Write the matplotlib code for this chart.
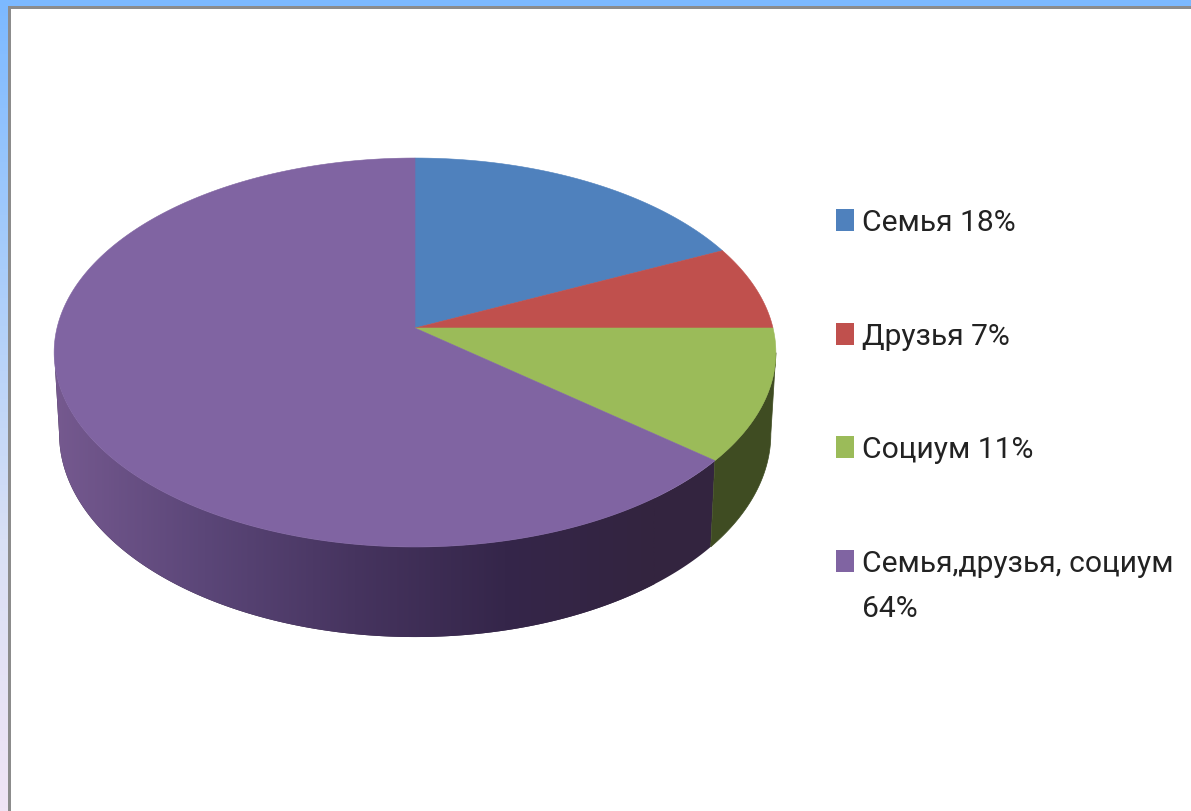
import numpy as np
import matplotlib
matplotlib.use('Agg')
import matplotlib.pyplot as plt
from matplotlib.patches import Polygon, Rectangle
from matplotlib.colors import LinearSegmentedColormap

plt.rcParams['font.family'] = ['Roboto', 'DejaVu Sans']

# chart data
names = ['Семья 18%', 'Друзья 7%', 'Социум 11%', 'Семья,друзья, социум\n64%']
values = [18, 7, 11, 64]
top_colors = ['#4f81bd', '#c0504d', '#9bbb59', '#8064a2']
side_colors = ['#2c4a70', '#70302e', '#3f4c22', '#35264a']

fig = plt.figure(figsize=(11.91, 8.11), dpi=100)
ax = fig.add_axes([0, 0, 1, 1])

# page background: blue to lavender strip at left, blue band on top
bg = LinearSegmentedColormap.from_list('bg', ['#7cb9ff', '#a9cdfb', '#d9e0f5', '#f0e4f5'])
grad = np.linspace(0, 1, 256).reshape(-1, 1)
ax.imshow(grad, cmap=bg, extent=(0, 1191, 811, 0), aspect='auto', zorder=0)
ax.add_patch(Rectangle((0, 0), 1191, 6, color='#7cb9ff', lw=0, zorder=1))
ax.add_patch(Rectangle((8, 6), 1183, 805, color='#8c8c8c', lw=0, zorder=1))
ax.add_patch(Rectangle((11, 8.5), 1180, 803, color='#ffffff', lw=0, zorder=1))

# perspective disc: apex of the slices sits above the middle of the ellipse
cx = 415
cy = 328
rx = 358
ry = 191.4
persp = 0.126
low_rx = 353
low_ry = 200
low_cy = 408.2


def disc(theta, r_x, r_y, c_y):
    # theta is clockwise from twelve o'clock
    x = np.sin(theta)
    y = np.cos(theta)
    d = 1 + persp * y
    return cx + r_x * x / d, c_y - r_y * y / d


edges = np.cumsum([0] + values) / sum(values) * 2 * np.pi

# side wall, the purple one gets a left to right shading through a clipped image
dark = LinearSegmentedColormap.from_list('dark', ['#75598f', '#5b4678', '#46345f', '#35264a', '#33243f'])
shade = np.linspace(0, 1, 512).reshape(1, -1)
for i in range(len(values)):
    t = np.linspace(edges[i], edges[i + 1], 800)
    # silhouette of both discs turns at the same angle
    t = t[np.cos(t) <= -persp]
    if len(t) == 0:
        continue
    x1, y1 = disc(t, rx, ry, cy)
    x2, y2 = disc(t, low_rx, low_ry, low_cy)
    pts = np.column_stack([np.r_[x1, x2[::-1]], np.r_[y1, y2[::-1]]])
    wall = Polygon(pts, closed=True, fc=side_colors[i], ec=side_colors[i], lw=0.5, zorder=2)
    ax.add_patch(wall)
    if i == 3:
        wall.set_facecolor('none')
        wall.set_edgecolor('none')
        img = ax.imshow(shade, cmap=dark, extent=(55, 655, 660, 340), aspect='auto', zorder=2)
        img.set_clip_path(wall)
        # the far right end of the wall keeps the last shade
        rest = Polygon(pts, closed=True, fc=dark(1.0), ec='none', zorder=1.5)
        ax.add_patch(rest)

# top face
for i in range(len(values)):
    t = np.linspace(edges[i], edges[i + 1], 300)
    x1, y1 = disc(t, rx, ry, cy)
    pts = np.column_stack([np.r_[cx, x1], np.r_[cy, y1]])
    ax.add_patch(Polygon(pts, closed=True, fc=top_colors[i], ec=top_colors[i], lw=0.4, zorder=3))

# legend
for i, name in enumerate(names):
    baseline = 231 + 113.7 * i
    ax.add_patch(Rectangle((836, baseline - 22), 18, 22, color=top_colors[i], lw=0, zorder=3))
    for k, line in enumerate(name.split('\n')):
        ax.text(862, baseline + 45 * k, line, fontsize=21.6, color='#222222', va='baseline', ha='left', zorder=4)

ax.set_xlim(0, 1191)
ax.set_ylim(811, 0)
ax.axis('off')

fig.savefig('out.png', dpi=100)
